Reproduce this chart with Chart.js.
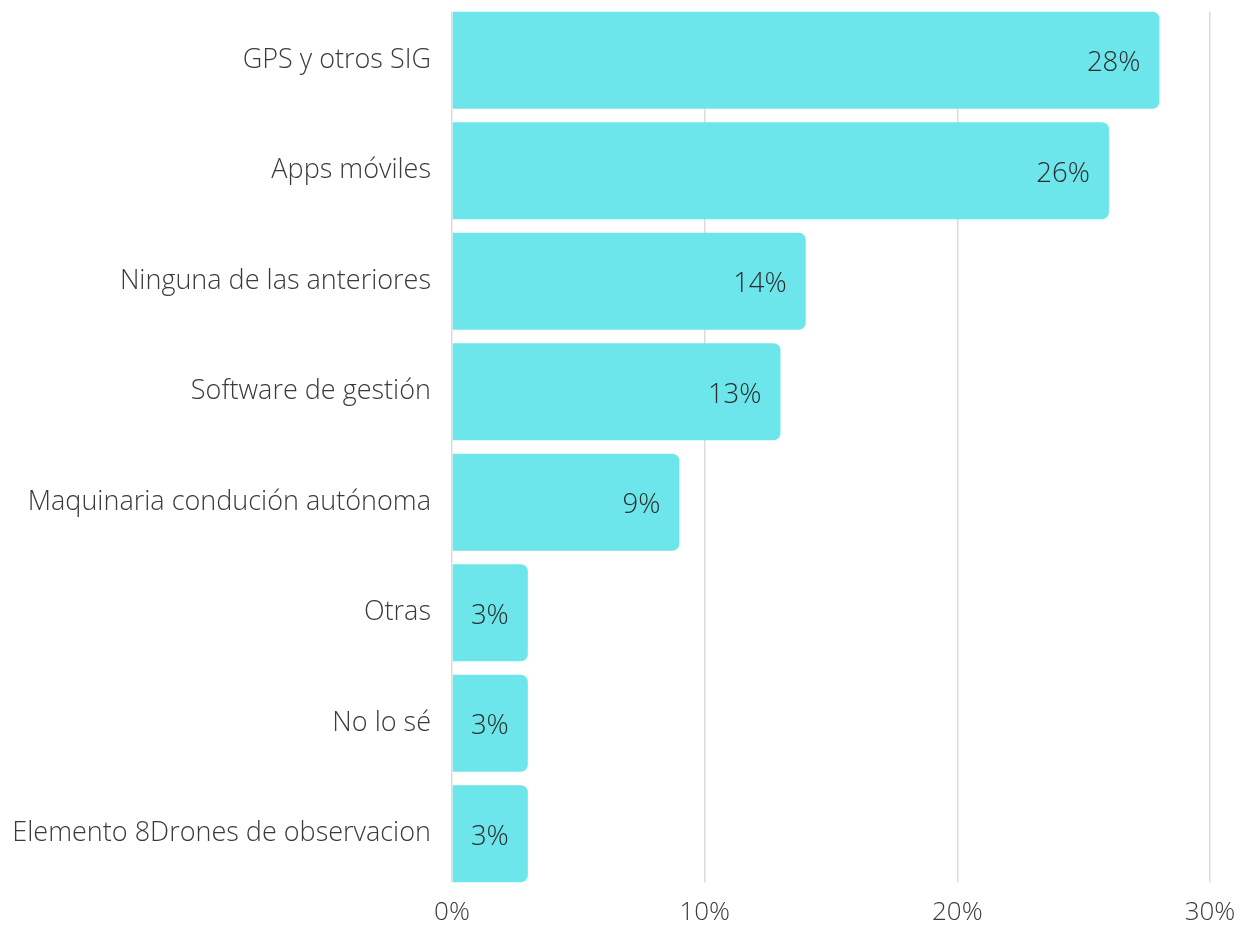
<!DOCTYPE html>
<html>
<head>
<meta charset="utf-8">
<script src="https://cdn.jsdelivr.net/npm/chart.js@4/dist/chart.umd.min.js"></script>
<style>
  html, body { margin: 0; padding: 0; background: #fff; }
  #wrap { width: 1246px; height: 926px; position: relative; }
</style>
</head>
<body>
<div id="wrap"><canvas id="c" width="1246" height="926"></canvas></div>
<script>
const categories = [
  "GPS y otros SIG",
  "Apps móviles",
  "Ninguna de las anteriores",
  "Software de gestión",
  "Maquinaria condución autónoma",
  "Otras",
  "No lo sé",
  "Elemento 8Drones de observacion"
];
const values = [28, 26, 14, 13, 9, 3, 3, 3];
const tickValues = [0, 10, 20, 30];

const FONT = "'Open Sans', sans-serif";
const barColor = "#6ce6ea";

// Trim the vertical grid lines so they span only the bar band (as in the reference)
const gridTrim = {
  id: "gridTrim",
  beforeDatasetsDraw(chart) {
    const meta = chart.getDatasetMeta(0);
    const first = meta.data[0], last = meta.data[meta.data.length - 1];
    const a = chart.chartArea;
    const ctx = chart.ctx;
    ctx.save();
    ctx.fillStyle = "#ffffff";
    const topEdge = first.y - first.height / 2;
    const botEdge = last.y + last.height / 2;
    ctx.fillRect(a.left - 2, a.top - 2, a.right - a.left + 4, topEdge - a.top + 2);
    ctx.fillRect(a.left - 2, botEdge, a.right - a.left + 4, a.bottom - botEdge + 2);
    ctx.restore();
  }
};

const valueLabels = {
  id: "valueLabels",
  afterDatasetsDraw(chart) {
    const ctx = chart.ctx;
    const meta = chart.getDatasetMeta(0);
    ctx.save();
    ctx.font = "300 27.5px " + FONT;
    ctx.fillStyle = "#2b2b2b";
    ctx.textAlign = "right";
    ctx.textBaseline = "middle";
    meta.data.forEach((bar, i) => {
      ctx.fillText(values[i] + "%", bar.x - 19, bar.y + 3);
    });
    ctx.restore();
  }
};

new Chart(document.getElementById("c"), {
  type: "bar",
  data: {
    labels: categories,
    datasets: [{
      data: values,
      backgroundColor: barColor,
      borderWidth: 0,
      borderRadius: { topLeft: 0, bottomLeft: 0, topRight: 7, bottomRight: 7 },
      borderSkipped: false,
      categoryPercentage: 1,
      barPercentage: 0.88
    }]
  },
  options: {
    indexAxis: "y",
    responsive: false,
    animation: false,
    devicePixelRatio: 1,
    layout: { padding: { top: 5, right: 36, bottom: 0, left: 0 } },
    plugins: { legend: { display: false }, tooltip: { enabled: false } },
    scales: {
      x: {
        min: 0, max: 30,
        afterBuildTicks(scale) { scale.ticks = tickValues.map(v => ({ value: v })); },
        afterFit(scale) { scale.height = 37; scale.paddingLeft = 0; scale.paddingRight = 0; },
        grid: { color: "#dcdcdc", lineWidth: 1.5, drawTicks: false },
        border: { display: false },
        ticks: {
          padding: 8,
          color: "#3a3a3a",
          font: { family: FONT, size: 26, weight: 300 },
          callback: v => v + "%"
        }
      },
      y: {
        afterFit(scale) { scale.width = 452; scale.paddingTop = 0; scale.paddingBottom = 0; },
        grid: { display: false, drawTicks: false },
        border: { display: false },
        ticks: {
          padding: 21,
          color: "#3a3a3a",
          font: { family: FONT, size: 27, weight: 300 }
        }
      }
    }
  },
  plugins: [gridTrim, valueLabels]
});
</script>
</body>
</html>
